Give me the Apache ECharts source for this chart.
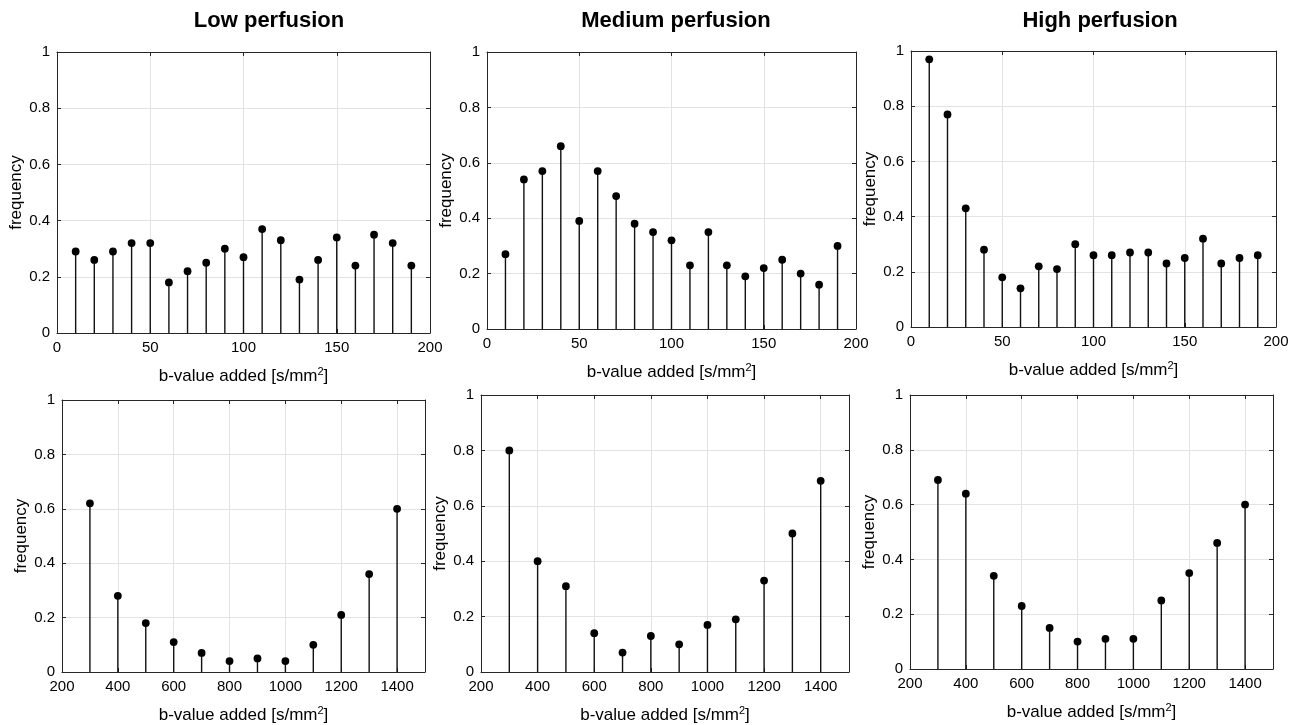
<!DOCTYPE html>
<html>
<head>
<meta charset="utf-8">
<script src="https://cdn.jsdelivr.net/npm/echarts@6/dist/echarts.min.js"></script>
<style>
  html, body { margin: 0; padding: 0; background: #fff; }
  #chart { width: 1297px; height: 725px; }
</style>
</head>
<body>
<div id="chart"></div>
<script>
// b-values added (x positions of stems)
const lowB = [10, 20, 30, 40, 50, 60, 70, 80, 90, 100, 110, 120, 130, 140, 150, 160, 170, 180, 190];
const highB = [300, 400, 500, 600, 700, 800, 900, 1000, 1100, 1200, 1300, 1400];

// frequencies, top row (small b-values)
const lowPerfSmall = [0.29, 0.26, 0.29, 0.32, 0.32, 0.18, 0.22, 0.25, 0.30, 0.27, 0.37, 0.33, 0.19, 0.26, 0.34, 0.24, 0.35, 0.32, 0.24];
const medPerfSmall = [0.27, 0.54, 0.57, 0.66, 0.39, 0.57, 0.48, 0.38, 0.35, 0.32, 0.23, 0.35, 0.23, 0.19, 0.22, 0.25, 0.20, 0.16, 0.30];
const highPerfSmall = [0.97, 0.77, 0.43, 0.28, 0.18, 0.14, 0.22, 0.21, 0.30, 0.26, 0.26, 0.27, 0.27, 0.23, 0.25, 0.32, 0.23, 0.25, 0.26];

// frequencies, bottom row (large b-values)
const lowPerfLarge = [0.62, 0.28, 0.18, 0.11, 0.07, 0.04, 0.05, 0.04, 0.10, 0.21, 0.36, 0.60];
const medPerfLarge = [0.80, 0.40, 0.31, 0.14, 0.07, 0.13, 0.10, 0.17, 0.19, 0.33, 0.50, 0.69];
const highPerfLarge = [0.69, 0.64, 0.34, 0.23, 0.15, 0.10, 0.11, 0.11, 0.25, 0.35, 0.46, 0.60];

const titles = ['Low perfusion', 'Medium perfusion', 'High perfusion'];
const titleX = [264, 671, 1095];

const FONT = 'Liberation Sans, Arial, Helvetica, sans-serif';
const AXIS_COLOR = '#262626';

const panels = [
  { left: 57, top: 52, width: 373, height: 281, x: lowB, y: lowPerfSmall, xmin: 0, xmax: 200, step: 50 },
  { left: 487, top: 52, width: 369, height: 277, x: lowB, y: medPerfSmall, xmin: 0, xmax: 200, step: 50 },
  { left: 911, top: 51, width: 365, height: 276, x: lowB, y: highPerfSmall, xmin: 0, xmax: 200, step: 50 },
  { left: 62, top: 400, width: 363, height: 274, x: highB, y: lowPerfLarge, xmin: 200, xmax: 1500, step: 200 },
  { left: 481, top: 395, width: 368, height: 278, x: highB, y: medPerfLarge, xmin: 200, xmax: 1500, step: 200 },
  { left: 910, top: 395, width: 363, height: 274, x: highB, y: highPerfLarge, xmin: 200, xmax: 1500, step: 200 },
];

const grid = [];
const xAxis = [];
const yAxis = [];
const series = [];

panels.forEach((p, i) => {
  grid.push({ left: p.left, top: p.top, width: p.width, height: p.height });

  const tick = { show: true, inside: true, length: 4, lineStyle: { color: AXIS_COLOR } };
  const line = { show: true, onZero: false, lineStyle: { color: AXIS_COLOR, width: 1 } };

  xAxis.push({
    type: 'value', gridIndex: i, min: p.xmin, max: p.xmax, interval: p.step,
    axisLine: line, axisTick: tick,
    axisLabel: {
      color: '#000', fontFamily: FONT, fontSize: 15, margin: 7,
      showMaxLabel: p.xmax % p.step === 0,
      formatter: (v) => String(v),
    },
    splitLine: { show: true, lineStyle: { color: '#e3e3e3' } },
    name: 'b-value added [s/mm{sup|2}]',
    nameLocation: 'middle',
    nameGap: 33,
    nameTextStyle: {
      color: '#000', fontFamily: FONT, fontSize: 17,
      rich: { sup: { fontSize: 11, verticalAlign: 'top', padding: [0, 0, 10, 0], fontFamily: FONT, color: '#000' } },
    },
  });
  xAxis.push({
    type: 'value', gridIndex: i, position: 'top', min: p.xmin, max: p.xmax, interval: p.step,
    axisLine: line, axisTick: tick, axisLabel: { show: false }, splitLine: { show: false },
  });

  yAxis.push({
    type: 'value', gridIndex: i, min: 0, max: 1, interval: 0.2,
    axisLine: line, axisTick: tick,
    axisLabel: { color: '#000', fontFamily: FONT, fontSize: 15, margin: 7 },
    splitLine: { show: true, lineStyle: { color: '#e3e3e3' } },
    name: 'frequency',
    nameLocation: 'middle',
    nameGap: 31,
    nameTextStyle: { color: '#000', fontFamily: FONT, fontSize: 17 },
  });
  yAxis.push({
    type: 'value', gridIndex: i, position: 'right', min: 0, max: 1, interval: 0.2,
    axisLine: line, axisTick: tick, axisLabel: { show: false }, splitLine: { show: false },
  });

  // stem plot: vertical line from 0 up to the value, dot on top
  series.push({
    type: 'custom',
    xAxisIndex: i * 2,
    yAxisIndex: i * 2,
    data: p.x.map((b, k) => [b, p.y[k]]),
    renderItem(params, api) {
      const base = api.coord([api.value(0), 0]);
      const tip = api.coord([api.value(0), api.value(1)]);
      return {
        type: 'group',
        children: [
          { type: 'line', shape: { x1: base[0], y1: base[1], x2: tip[0], y2: tip[1] }, style: { stroke: '#111', lineWidth: 1.4 } },
          { type: 'circle', shape: { cx: tip[0], cy: tip[1], r: 3.9 }, style: { fill: '#000' } },
        ],
      };
    },
  });
});

const option = {
  animation: false,
  backgroundColor: '#fff',
  title: titles.map((t, i) => ({
    text: t,
    left: titleX[i],
    top: 5,
    textAlign: 'center',
    textStyle: { fontFamily: FONT, fontSize: 22, fontWeight: 'bold', color: '#000' },
  })),
  grid,
  xAxis,
  yAxis,
  series,
};

const chart = echarts.init(document.getElementById('chart'));
chart.setOption(option);
</script>
</body>
</html>
